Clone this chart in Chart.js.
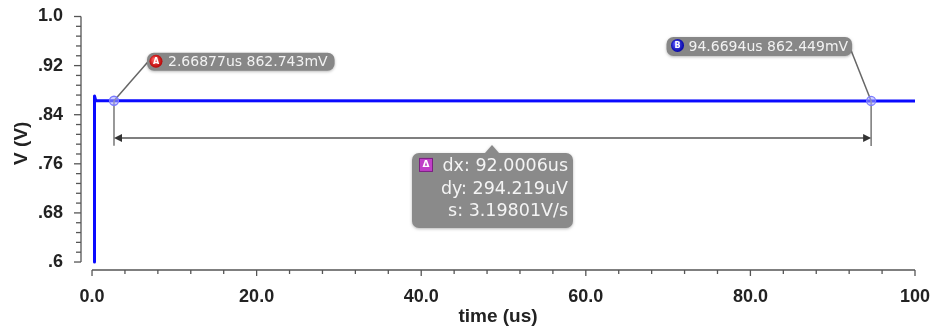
<!DOCTYPE html>
<html>
<head>
<meta charset="utf-8">
<script src="https://cdn.jsdelivr.net/npm/chart.js@4"></script>
<style>
  html, body { margin: 0; padding: 0; background: #fff; }
  #wrap { width: 939px; height: 334px; position: relative; }
</style>
</head>
<body>
<div id="wrap"><canvas id="c"></canvas></div>
<script>
// Supply node settling: time in microseconds, voltage in volts
const timeUs = [0.3, 0.3, 0.45, 2.66877, 94.6694, 100.0];
const volts  = [0.6, 0.8705, 0.8630, 0.862743, 0.862448781, 0.86244];

// Measurement cursors A and B
const cursorNames = ['A', 'B'];
const cursorTimes = [2.66877, 94.6694];
const cursorVolts = [0.862743, 0.862448781];

// Axis ticks
const xTickValues = [0, 20, 40, 60, 80, 100];
const xTickLabels = ['0.0', '20.0', '40.0', '60.0', '80.0', '100'];
const yTickValues = [0.6, 0.68, 0.76, 0.84, 0.92, 1.0];
const yTickLabels = ['.6', '.68', '.76', '.84', '.92', '1.0'];

const TICK_FONT = { family: '"Liberation Sans", Arial, sans-serif', size: 18, weight: 'bold' };
const AXIS_COLOR = '#555';

function seg(ctx, x1, y1, x2, y2) {
  ctx.beginPath(); ctx.moveTo(x1, y1); ctx.lineTo(x2, y2); ctx.stroke();
}

// Detached axes with major and minor tick marks
const axesPlugin = {
  id: 'detachedAxes',
  beforeDatasetsDraw(chart) {
    const { ctx, chartArea, scales: { x, y } } = chart;
    const ax = chartArea.left, ay = chartArea.bottom;
    const x0 = x.getPixelForValue(xTickValues[0]);
    const x1 = x.getPixelForValue(xTickValues[xTickValues.length - 1]);
    const y0 = y.getPixelForValue(yTickValues[0]);
    const y1 = y.getPixelForValue(yTickValues[yTickValues.length - 1]);
    ctx.save();
    ctx.strokeStyle = AXIS_COLOR;
    ctx.lineWidth = 1.3;
    seg(ctx, ax, y1, ax, y0);
    const yStep = (yTickValues[1] - yTickValues[0]) / 5;
    for (let i = 0; i <= 25; i++) {
      const p = y.getPixelForValue(yTickValues[0] + i * yStep);
      seg(ctx, ax - (i % 5 === 0 ? 7 : 5), p, ax, p);
    }
    seg(ctx, x0, ay, x1, ay);
    const xStep = (xTickValues[1] - xTickValues[0]) / 5;
    for (let i = 0; i <= 25; i++) {
      const p = x.getPixelForValue(xTickValues[0] + i * xStep);
      seg(ctx, p, ay, p, ay + (i % 5 === 0 ? 6 : 4));
    }
    ctx.restore();
  }
};

function badge(ctx, cx, cy, letter, c1, c2) {
  const g = ctx.createRadialGradient(cx - 2, cy - 2, 1, cx, cy, 7);
  g.addColorStop(0, c1); g.addColorStop(1, c2);
  ctx.fillStyle = g;
  ctx.beginPath(); ctx.arc(cx, cy, 6.5, 0, Math.PI * 2); ctx.fill();
  ctx.fillStyle = '#fff';
  ctx.font = 'bold 8px "DejaVu Sans", sans-serif';
  ctx.textAlign = 'center'; ctx.textBaseline = 'middle';
  ctx.fillText(letter, cx, cy + 0.5);
}

function shadowOn(ctx) {
  ctx.shadowColor = 'rgba(0,0,0,0.28)';
  ctx.shadowBlur = 3; ctx.shadowOffsetY = 1;
}
function shadowOff(ctx) {
  ctx.shadowColor = 'transparent'; ctx.shadowBlur = 0; ctx.shadowOffsetY = 0;
}

// Cursor markers, their labels and the delta readout
const cursorPlugin = {
  id: 'cursors',
  afterDatasetsDraw(chart) {
    const { ctx, scales: { x, y } } = chart;
    const px = cursorTimes.map(t => x.getPixelForValue(t));
    const py = cursorVolts.map(v => y.getPixelForValue(v));
    const arrowY = Math.max(py[0], py[1]) + 37;
    ctx.save();

    // cursor drop lines
    ctx.strokeStyle = '#777'; ctx.lineWidth = 1.5;
    px.forEach((xx, i) => seg(ctx, xx, py[i], xx, py[i] + 45));

    // dx arrow
    ctx.strokeStyle = '#555'; ctx.fillStyle = '#333';
    seg(ctx, px[0] + 2, arrowY, px[1] - 2, arrowY);
    ctx.beginPath();
    ctx.moveTo(px[0], arrowY); ctx.lineTo(px[0] + 8, arrowY - 4); ctx.lineTo(px[0] + 8, arrowY + 4); ctx.closePath(); ctx.fill();
    ctx.beginPath();
    ctx.moveTo(px[1], arrowY); ctx.lineTo(px[1] - 8, arrowY - 4); ctx.lineTo(px[1] - 8, arrowY + 4); ctx.closePath(); ctx.fill();

    // label texts
    const labelFont = '14px "DejaVu Sans", sans-serif';
    ctx.font = labelFont;
    const texts = cursorTimes.map((t, i) =>
      t.toPrecision(6) + 'us ' + (cursorVolts[i] * 1000).toPrecision(6) + 'mV');

    // cursor A label (up-right of the cursor)
    {
      const w = ctx.measureText(texts[0]).width;
      const bx = px[0] + 33, by = py[0] - 48, bh = 18, bw = w + 28;
      ctx.strokeStyle = '#666'; ctx.lineWidth = 1.5;
      seg(ctx, px[0], py[0], bx + 1, by + 9);
      shadowOn(ctx);
      ctx.fillStyle = '#878787';
      ctx.beginPath(); ctx.roundRect(bx, by, bw, bh, 7); ctx.fill();
      shadowOff(ctx);
      badge(ctx, bx + 9, by + 8.5, cursorNames[0], '#ff5a5a', '#b00000');
      ctx.fillStyle = '#f2f2f2'; ctx.font = labelFont;
      ctx.textAlign = 'left'; ctx.textBaseline = 'middle';
      ctx.fillText(texts[0], bx + 21, by + bh / 2 + 0.5);
    }
    // cursor B label (up-left of the cursor)
    {
      const w = ctx.measureText(texts[1]).width;
      const bw = w + 26, bh = 19;
      const bx = px[1] - 19 - bw, by = py[1] - 64;
      ctx.strokeStyle = '#666'; ctx.lineWidth = 1.5;
      seg(ctx, px[1], py[1], bx + bw - 2, by + 11);
      shadowOn(ctx);
      ctx.fillStyle = '#878787';
      ctx.beginPath(); ctx.roundRect(bx, by, bw, bh, 7); ctx.fill();
      shadowOff(ctx);
      badge(ctx, bx + 11, by + 8.5, cursorNames[1], '#5a5aff', '#0000a0');
      ctx.fillStyle = '#f2f2f2'; ctx.font = labelFont;
      ctx.textAlign = 'left'; ctx.textBaseline = 'middle';
      ctx.fillText(texts[1], bx + 22, by + bh / 2 + 0.5);
    }

    // cursor circles
    px.forEach((xx, i) => {
      ctx.fillStyle = 'rgba(170,170,255,0.55)';
      ctx.strokeStyle = '#7a7aff'; ctx.lineWidth = 1.3;
      ctx.beginPath(); ctx.arc(xx, py[i], 4.5, 0, Math.PI * 2); ctx.fill(); ctx.stroke();
    });

    // delta readout
    const dx = cursorTimes[1] - cursorTimes[0];
    const dyUV = (cursorVolts[0] - cursorVolts[1]) * 1e6;
    const slope = dyUV / dx;
    const lines = [
      'dx: ' + dx.toPrecision(6) + 'us',
      'dy: ' + dyUV.toPrecision(6) + 'uV',
      's: ' + slope.toPrecision(6) + 'V/s'
    ];
    const bx0 = 412, bx1 = 573, by0 = arrowY + 15, by1 = arrowY + 90, r = 7, nx = 492;
    shadowOn(ctx);
    ctx.fillStyle = '#8a8a8a';
    ctx.beginPath();
    ctx.moveTo(bx0 + r, by0);
    ctx.lineTo(nx - 7, by0); ctx.lineTo(nx, by0 - 8); ctx.lineTo(nx + 7, by0);
    ctx.arcTo(bx1, by0, bx1, by1, r);
    ctx.arcTo(bx1, by1, bx0, by1, r);
    ctx.arcTo(bx0, by1, bx0, by0, r);
    ctx.arcTo(bx0, by0, bx1, by0, r);
    ctx.closePath(); ctx.fill();
    shadowOff(ctx);
    // delta icon
    ctx.fillStyle = '#c040c8'; ctx.strokeStyle = '#7a2080'; ctx.lineWidth = 1;
    ctx.fillRect(419, by0 + 5, 14, 14); ctx.strokeRect(419.5, by0 + 5.5, 13, 13);
    ctx.fillStyle = '#fff'; ctx.font = 'bold 9px "DejaVu Sans", sans-serif';
    ctx.textAlign = 'center'; ctx.textBaseline = 'middle';
    ctx.fillText('\u0394', 426, by0 + 12);
    ctx.fillStyle = '#f4f4f4';
    ctx.font = '17.5px "DejaVu Sans", sans-serif';
    ctx.textAlign = 'right'; ctx.textBaseline = 'middle';
    lines.forEach((s, i) => ctx.fillText(s, 568, by0 + 14 + i * 22.5));
    ctx.restore();
  }
};

new Chart(document.getElementById('c'), {
  type: 'line',
  data: {
    datasets: [{
      data: timeUs.map((t, i) => ({ x: t, y: volts[i] })),
      borderColor: '#0a0aff',
      borderWidth: 3,
      borderJoinStyle: 'round',
      borderCapStyle: 'round',
      pointRadius: 0,
      tension: 0,
      fill: false
    }]
  },
  options: {
    responsive: true,
    maintainAspectRatio: false,
    animation: false,
    layout: { padding: { top: 16.5, right: 24, left: 0, bottom: 0 } },
    plugins: { legend: { display: false }, tooltip: { enabled: false } },
    scales: {
      x: {
        type: 'linear',
        min: -1.34,
        max: 100,
        afterBuildTicks(s) { s.ticks = xTickValues.map(v => ({ value: v })); },
        afterFit(s) { s.height = 64; s.paddingLeft = 0; s.paddingRight = 0; },
        grid: { display: false, drawTicks: false },
        border: { display: false },
        ticks: {
          autoSkip: false, maxRotation: 0, padding: 16,
          color: '#222', font: TICK_FONT,
          callback: (v, i) => xTickLabels[i]
        },
        title: {
          display: true, text: 'time (us)', color: '#222',
          font: { family: '"Liberation Sans", Arial, sans-serif', size: 19, weight: 'bold' },
          padding: { top: 0, bottom: 6 }
        }
      },
      y: {
        type: 'linear',
        min: 0.587,
        max: 1.0,
        afterBuildTicks(s) { s.ticks = yTickValues.map(v => ({ value: v })); },
        afterFit(s) { s.width = 81; s.paddingTop = 0; s.paddingBottom = 0; },
        grid: { display: false, drawTicks: false },
        border: { display: false },
        ticks: {
          autoSkip: false, padding: 18,
          color: '#222', font: TICK_FONT,
          callback: (v, i) => yTickLabels[i]
        },
        title: {
          display: true, text: 'V (V)', color: '#222',
          font: { family: '"Liberation Sans", Arial, sans-serif', size: 19, weight: 'bold' },
          padding: { top: 10, bottom: 0 }
        }
      }
    }
  },
  plugins: [axesPlugin, cursorPlugin]
});
</script>
</body>
</html>
